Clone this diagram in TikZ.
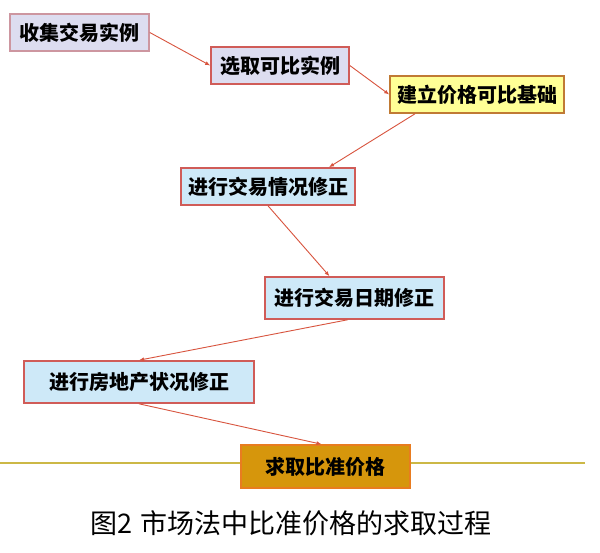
\documentclass[tikz,border=0pt]{standalone}
\usepackage{fontspec}
\setmainfont{Noto Sans CJK SC}
\usepackage{tikz}
\usetikzlibrary{arrows.meta,positioning,calc}
\definecolor{lavfill}{RGB}{221,221,240}
\definecolor{lavdraw}{RGB}{205,150,160}
\definecolor{reddraw}{RGB}{208,92,88}
\definecolor{yelfill}{RGB}{255,255,150}
\definecolor{yeldraw}{RGB}{192,122,52}
\definecolor{bluefill}{RGB}{206,233,248}
\definecolor{golddraw}{RGB}{232,124,32}
\definecolor{goldfill}{RGB}{214,150,12}
\definecolor{rulecol}{RGB}{204,184,70}
\definecolor{arrcol}{RGB}{216,84,62}

\begin{document}
\begin{tikzpicture}[
  x=1pt, y=-1pt,
  every node/.style={font=\fontsize{20}{24}\selectfont\bfseries},
  box/.style={rectangle, draw=reddraw, line width=1.6pt, inner sep=0pt,
              minimum height=37pt},
  lav/.style={box, fill=lavfill},
  yel/.style={box, fill=yelfill, draw=yeldraw},
  blu/.style={box, fill=bluefill},
  gold/.style={box, fill=goldfill, draw=golddraw},
  ar/.style={-{Latex[length=5pt,width=4pt]}, line width=0.9pt, draw=arrcol}
]
\useasboundingbox (0,0) rectangle (600,552);
\fill[white] (0,0) rectangle (600,552);

\draw[rulecol, line width=1.2pt] (0,463) -- (585,463);

\node[lav, draw=lavdraw, minimum width=139pt] (collect) at (79.5,32.5) {收集交易实例};
\node[lav, minimum width=138pt] (select) at (280,65.5) {选取可比实例};
\node[yel, minimum width=174pt] (base) at (477,94.5) {建立价格可比基础};
\node[blu, minimum width=174pt] (trade) at (268,186.5) {进行交易情况修正};
\node[blu, minimum width=179pt, minimum height=42pt] (date) at (354.5,298) {进行交易日期修正};
\node[blu, minimum width=230pt, minimum height=42pt] (estate) at (139,382) {进行房地产状况修正};
\node[gold, minimum width=169pt, minimum height=43pt] (price) at (325.5,466.5) {求取比准价格};

\node[font=\fontsize{27}{32}\selectfont] (cap) at (291,523) {图2\hspace{9pt}市场法中比准价格的求取过程};

\draw[ar] (collect.east) -- (select.west);
\draw[ar] (select.east) -- (base.west);
\draw[ar] ([xshift=-62]base.south) -- ([xshift=61]trade.north);
\draw[ar] (trade.south) -- ([xshift=-25]date.north);
\draw[ar] ([xshift=-7]date.south) -- (estate.north);
\draw[ar] (estate.south) -- ([xshift=-4]price.north);
\end{tikzpicture}
\end{document}
